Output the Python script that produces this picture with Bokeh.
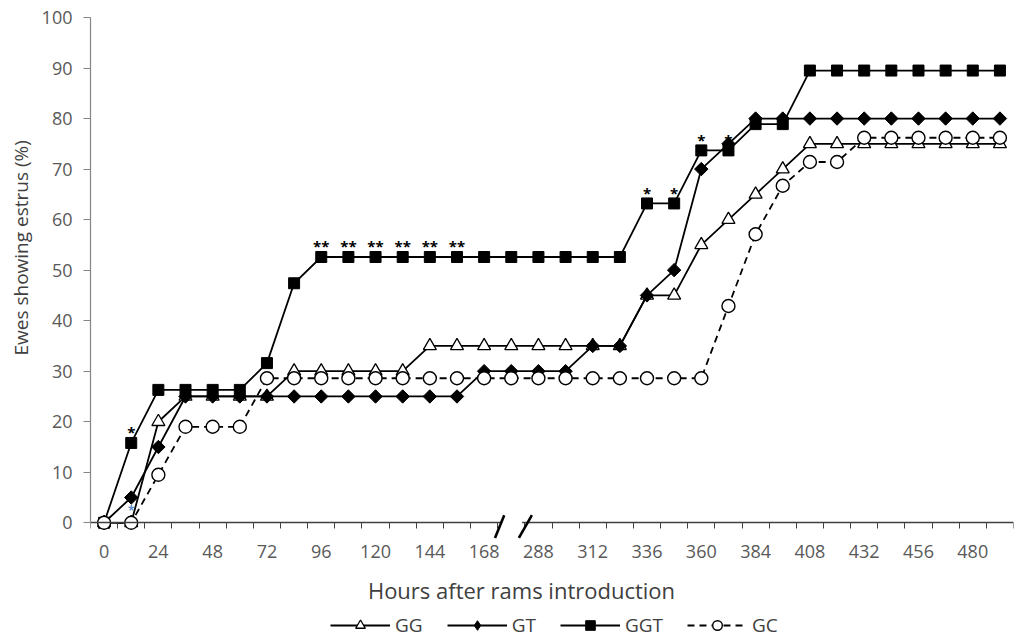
import math
from bokeh.plotting import figure
from bokeh.models import (Range1d, FixedTicker, Legend, LegendItem, Label,
                          BoxAnnotation, Title)
from bokeh.core.properties import value
from bokeh.embed import file_html
from bokeh.resources import INLINE

# ---- data ----
hours = ["0", "12", "24", "36", "48", "60", "72", "84", "96", "108", "120", "132",
         "144", "156", "168", "",
         "288", "300", "312", "324", "336", "348", "360", "372", "384", "396",
         "408", "420", "432", "444", "456", "468", "480", "492"]
tick_hours = ["0", "24", "48", "72", "96", "120", "144", "168",
              "288", "312", "336", "360", "384", "408", "432", "456", "480"]

gg = [0, 0, 20, 25, 25, 25, 25, 30, 30, 30, 30, 30, 35, 35, 35, 35, 35,
      35, 35, 35, 45, 45, 55, 60, 65, 70, 75, 75, 75, 75, 75, 75, 75, 75]
gt = [0, 5, 15, 25, 25, 25, 25, 25, 25, 25, 25, 25, 25, 25, 30, 30, 30,
      30, 35, 35, 45, 50, 70, 75, 80, 80, 80, 80, 80, 80, 80, 80, 80, 80]
ggt = [0, 15.8, 26.3, 26.3, 26.3, 26.3, 31.6, 47.4, 52.6, 52.6, 52.6, 52.6,
       52.6, 52.6, 52.6, 52.6, 52.6, 52.6, 52.6, 52.6, 63.2, 63.2, 73.7, 73.7,
       78.9, 78.9, 89.5, 89.5, 89.5, 89.5, 89.5, 89.5, 89.5, 89.5]
gc = [0, 0, 9.5, 19.0, 19.0, 19.0, 28.6, 28.6, 28.6, 28.6, 28.6, 28.6, 28.6,
      28.6, 28.6, 28.6, 28.6, 28.6, 28.6, 28.6, 28.6, 28.6, 28.6, 42.9, 57.1,
      66.7, 71.4, 71.4, 76.2, 76.2, 76.2, 76.2, 76.2, 76.2]

sig_hours = ["12", "96", "108", "120", "132", "144", "156", "336", "348", "360", "372"]
sig_marks = ["*", "**", "**", "**", "**", "**", "**", "*", "*", "*", "*"]
low_sig_hours = ["12"]
low_sig_values = [2.4]

# ---- figure ----
x = list(range(len(hours)))
FONT = "Open Sans"

p = figure(width=1021, height=639, output_backend="svg", toolbar_location=None,
           x_range=Range1d(-0.5, len(hours) - 0.5), y_range=Range1d(-23.1, 100),
           min_border_left=90, min_border_right=8, min_border_top=17,
           min_border_bottom=0)
p.outline_line_color = None
p.xgrid.visible = False
p.ygrid.visible = False

# x axis (category positions, ticks between categories), drawn at y = 0
xa = p.xaxis[0]
xa.ticker = FixedTicker(ticks=[hours.index(h) for h in tick_hours],
                        minor_ticks=[i - 0.5 for i in range(len(hours) + 1)])
xa.major_label_overrides = {hours.index(h): h for h in tick_hours}
xa.fixed_location = 0
xa.axis_line_color = "#404040"
xa.axis_line_width = 1.3
xa.major_tick_out = 0
xa.major_tick_in = 0
xa.minor_tick_out = 6
xa.minor_tick_in = 0
xa.minor_tick_line_color = "#404040"
xa.major_label_standoff = 16
xa.major_label_text_font = FONT
xa.major_label_text_font_size = "18px"
xa.major_label_text_color = "#595959"

# y axis
ya = p.yaxis[0]
ya.ticker = FixedTicker(ticks=list(range(0, 101, 10)))
ya.bounds = (0, 100)
ya.axis_line_color = "#868686"
ya.axis_line_width = 1.2
ya.major_tick_out = 7
ya.major_tick_in = 0
ya.major_tick_line_color = "#868686"
ya.minor_tick_line_color = None
ya.major_label_standoff = 11
ya.major_label_text_font = FONT
ya.major_label_text_font_size = "18px"
ya.major_label_text_color = "#595959"

# y axis title
p.add_layout(Title(text="Ewes showing estrus (%)", align="left", offset=284,
                   standoff=9, text_font=FONT, text_font_size="19px",
                   text_font_style="normal", text_color="#404040"), "left")

# axis break marks on the x axis
b = hours.index("")
p.add_layout(BoxAnnotation(left=b - 0.36, right=b + 0.40, bottom=-0.7, top=0.7,
                           fill_color="white", fill_alpha=1.0, line_alpha=0))
brk = p.segment(x0=[b - 0.43 - 0.17, b + 0.52 - 0.24], y0=[-3.0, -3.0],
                x1=[b - 0.43 + 0.17, b + 0.52 + 0.24], y1=[1.5, 1.5],
                line_color="black", line_width=2.6)
brk.level = "overlay"

# series
lw = 1.8
r_gg_l = p.line(x, gg, line_color="black", line_width=lw)
r_gg_m = p.scatter(x, gg, marker="triangle", size=13, fill_color="white",
                   line_color="black", line_width=1.3)
r_gt_l = p.line(x, gt, line_color="black", line_width=lw)
r_gt_m = p.scatter(x, gt, marker="square", angle=math.pi / 4, size=9.5,
                   fill_color="black", line_color="black")
# diamond-shaped twin used only for the legend swatch
r_gt_leg = p.scatter(x, gt, marker="diamond", size=13, fill_color="black",
                     line_color="black", visible=False)
r_ggt_l = p.line(x, ggt, line_color="black", line_width=lw)
r_ggt_m = p.scatter(x, ggt, marker="square", size=11, fill_color="black",
                    line_color="black")
r_gc_l = p.line(x, gc, line_color="black", line_width=lw, line_dash="7 5")
r_gc_m = p.scatter(x, gc, marker="circle", size=13, fill_color="white",
                   line_color="black", line_width=1.4)

# significance marks
sx = [hours.index(h) for h in sig_hours]
sy = [ggt[hours.index(h)] + 2.1 for h in sig_hours]
p.text(x=sx, y=sy, text=sig_marks, text_font=value(FONT), text_font_style="bold",
       text_font_size="15px", text_align="center", text_baseline="alphabetic",
       text_color="black")
p.text(x=[hours.index(h) for h in low_sig_hours], y=low_sig_values, text=["*"],
       text_font=value(FONT), text_font_style="bold", text_font_size="12px",
       text_align="center", text_baseline="middle", text_color="#5b8fc7")

# x axis title
p.add_layout(Label(x=431, y=50, x_units="screen", y_units="screen",
                   text="Hours after rams introduction", text_align="center",
                   text_baseline="alphabetic", text_font=FONT,
                   text_font_size="22px", text_color="#404040"))

# legend
legend = Legend(items=[
    LegendItem(label="GG", renderers=[r_gg_l, r_gg_m]),
    LegendItem(label="GT", renderers=[r_gt_l, r_gt_leg]),
    LegendItem(label="GGT", renderers=[r_ggt_l, r_ggt_m]),
    LegendItem(label="GC", renderers=[r_gc_l, r_gc_m]),
], orientation="horizontal", location=(240, 1))
legend.border_line_color = None
legend.background_fill_alpha = 0
legend.padding = 0
legend.margin = 0
legend.spacing = 24
legend.glyph_width = 60
legend.glyph_height = 24
legend.label_standoff = 5
legend.label_text_font = FONT
legend.label_text_font_size = "19px"
legend.label_text_color = "#404040"
p.add_layout(legend)

open("out.html", "w").write(file_html(p, INLINE))
